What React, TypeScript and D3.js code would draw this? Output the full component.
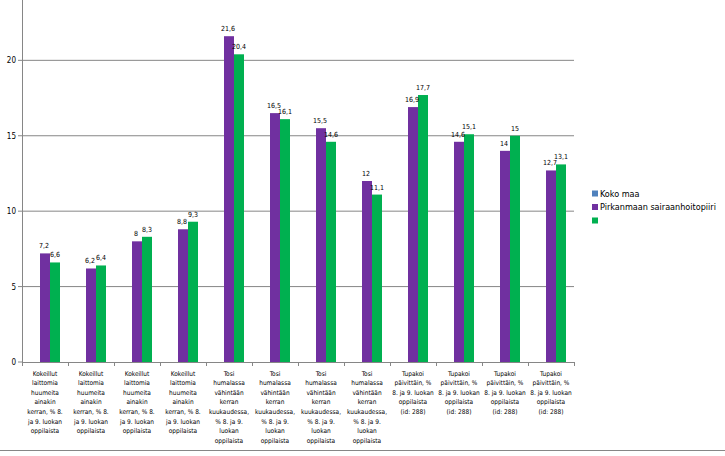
import React from "react";
import * as d3 from "d3";

const categories: string[][] = [
  ["Kokeillut", "laittomia", "huumeita", "ainakin", "kerran, % 8.", "ja 9. luokan", "oppilaista"],
  ["Kokeillut", "laittomia", "huumeita", "ainakin", "kerran, % 8.", "ja 9. luokan", "oppilaista"],
  ["Kokeillut", "laittomia", "huumeita", "ainakin", "kerran, % 8.", "ja 9. luokan", "oppilaista"],
  ["Kokeillut", "laittomia", "huumeita", "ainakin", "kerran, % 8.", "ja 9. luokan", "oppilaista"],
  ["Tosi", "humalassa", "vähintään", "kerran", "kuukaudessa,", "% 8. ja 9.", "luokan", "oppilaista"],
  ["Tosi", "humalassa", "vähintään", "kerran", "kuukaudessa,", "% 8. ja 9.", "luokan", "oppilaista"],
  ["Tosi", "humalassa", "vähintään", "kerran", "kuukaudessa,", "% 8. ja 9.", "luokan", "oppilaista"],
  ["Tosi", "humalassa", "vähintään", "kerran", "kuukaudessa,", "% 8. ja 9.", "luokan", "oppilaista"],
  ["Tupakoi", "päivittäin, %", "8. ja 9. luokan", "oppilaista", "(id: 288)"],
  ["Tupakoi", "päivittäin, %", "8. ja 9. luokan", "oppilaista", "(id: 288)"],
  ["Tupakoi", "päivittäin, %", "8. ja 9. luokan", "oppilaista", "(id: 288)"],
  ["Tupakoi", "päivittäin, %", "8. ja 9. luokan", "oppilaista", "(id: 288)"],
];

const kokoMaa: (number | null)[] = [null, null, null, null, null, null, null, null, null, null, null, null];
const pirkanmaa: number[] = [7.2, 6.2, 8, 8.8, 21.6, 16.5, 15.5, 12, 16.9, 14.6, 14, 12.7];
const third: number[] = [6.6, 6.4, 8.3, 9.3, 20.4, 16.1, 14.6, 11.1, 17.7, 15.1, 15, 13.1];

const seriesNames = ["Koko maa", "Pirkanmaan sairaanhoitopiiri", ""];
const seriesColors = ["#4F81BD", "#7030A0", "#00B050"];
const yTicks = [0, 5, 10, 15, 20];

const W = 725;
const H = 456;
const left = 22;
const right = 574;
const top = 0;
const bottom = 362;

const font = "Tahoma, 'DejaVu Sans Condensed', 'DejaVu Sans', sans-serif";

export default function App() {
  const x = d3.scaleBand<number>().domain(d3.range(categories.length)).range([left, right]).paddingInner(0).paddingOuter(0);
  const y = d3.scaleLinear().domain([0, 24]).range([bottom, top]);
  const inner = d3.scaleBand<number>().domain([0, 1, 2]).range([0, 30]);
  const groupOffset = (x.bandwidth() - 30) / 2;
  const series = [kokoMaa, pirkanmaa, third];
  const fmt = (v: number) => String(v).replace(".", ",");

  return (
    <svg width={W} height={H} style={{ position: "absolute", left: 0, top: 0, background: "#fff" }} fontFamily={font}>
      {yTicks.filter((t) => t > 0).map((t) => (
        <line key={"g" + t} x1={left} x2={right} y1={y(t)} y2={y(t)} stroke="#868686" strokeWidth={1} />
      ))}
      {series.map((s, si) =>
        s.map((v, i) =>
          v == null ? null : (
            <rect
              key={`b${si}-${i}`}
              x={(x(i) as number) + groupOffset + (inner(si) as number)}
              y={y(v)}
              width={inner.bandwidth()}
              height={y(0) - y(v)}
              fill={seriesColors[si]}
            />
          )
        )
      )}
      {series.map((s, si) =>
        s.map((v, i) =>
          v == null ? null : (
            <text
              key={`l${si}-${i}`}
              x={(x(i) as number) + groupOffset + (inner(si) as number) + inner.bandwidth() / 2 - (si === 1 ? 1 : 0)}
              y={y(v) - 5}
              fontSize={7}
              textAnchor="middle"
              fill="#000"
            >
              {fmt(v)}
            </text>
          )
        )
      )}
      {/* y axis */}
      <line x1={left + 0.5} x2={left + 0.5} y1={0} y2={bottom} stroke="#868686" />
      {yTicks.map((t) => (
        <g key={"t" + t}>
          <line x1={left - 4} x2={left} y1={y(t)} y2={y(t)} stroke="#868686" />
          <text x={left - 6} y={y(t) + 3} fontSize={8} textAnchor="end" fill="#000">
            {t}
          </text>
        </g>
      ))}
      {/* x axis */}
      <line x1={left} x2={right} y1={bottom + 0.5} y2={bottom + 0.5} stroke="#868686" />
      {d3.range(categories.length + 1).map((i) => {
        const xx = i < categories.length ? (x(i) as number) : right;
        return <line key={"xt" + i} x1={xx + 0.5} x2={xx + 0.5} y1={bottom} y2={bottom + 4} stroke="#868686" />;
      })}
      {categories.map((lines, i) => (
        <text key={"c" + i} fontSize={6.5} textAnchor="middle" fill="#000">
          {lines.map((ln, j) => (
            <tspan key={j} x={(x(i) as number) + x.bandwidth() / 2} y={375.5 + j * 9.65}>
              {ln}
            </tspan>
          ))}
        </text>
      ))}
      {/* legend */}
      {seriesNames.map((n, i) => (
        <g key={"lg" + i}>
          <rect x={592} y={190.5 + i * 13.5} width={6} height={6} fill={seriesColors[i]} />
          <text x={600} y={196.8 + i * 13.5} fontSize={9} fill="#000">
            {n}
          </text>
        </g>
      ))}
      <line x1={0} x2={W} y1={450.5} y2={450.5} stroke="#868686" />
    </svg>
  );
}
